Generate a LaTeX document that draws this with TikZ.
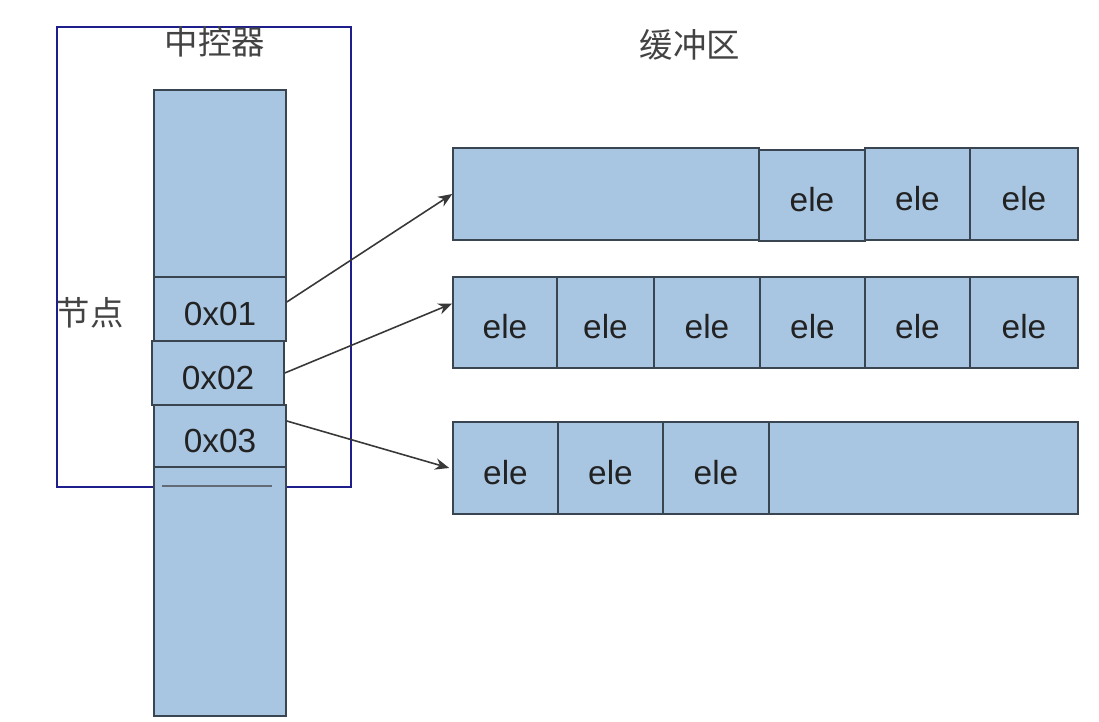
\documentclass[tikz,border=0pt]{standalone}
\usepackage{fontspec}
\setmainfont{Liberation Sans}
\newfontfamily\cjk{Noto Sans CJK SC}
\usetikzlibrary{arrows.meta}

\definecolor{cellfill}{HTML}{A8C5E2}
\definecolor{cellline}{HTML}{3A4552}
\definecolor{frame}{HTML}{1E1E8C}
\definecolor{ink}{HTML}{222222}

\begin{document}
\begin{tikzpicture}[x=0.02cm, y=-0.02cm, every node/.style={text=ink},
  cell/.style={draw=cellline, fill=cellfill, line width=0.9pt, inner sep=0pt,
    text height=18.3pt, text depth=0pt, font=\fontsize{19}{22}\selectfont},
  wh/.style 2 args={minimum width=#1*0.02cm, minimum height=#2*0.02cm},
  link/.style={draw=ink!90, line width=0.9pt, -{Stealth[length=8pt,width=6.5pt]}},
  head/.style={font=\cjk\fontsize{19}{22}\selectfont, text=ink!85}]
  \useasboundingbox (0,0) rectangle (1099,722);

  % controller frame sits behind the column
  \draw[frame, line width=0.9pt] (57,27) rectangle (351,487);
  \node[head] (ctrl) at (215,42) {中控器};
  \node[head] (buf) at (690,45) {缓冲区};
  \node[head] (nodelbl) at (90,313) {节点};

  % the column of node slots
  \node[cell, wh={132}{187}] (ctop) at (220,183.5) {};
  \node[cell, wh={132}{64}] (a1) at (220,309) {0x01};
  \node[cell, wh={132}{64}] (a2) at (218,373) {0x02};
  \node[cell, wh={132}{62}] (a3) at (220,436) {0x03};
  \node[cell, wh={132}{249}] (cbot) at (220,591.5) {};
  \draw[cellline!80, line width=0.8pt] (162,486) -- (272,486);

  % buffer rows
  \node[cell, wh={306}{92}] (r1e) at (606,194) {};
  \node[cell, wh={106}{91}] (r1a) at (812,195.5) {ele};
  \node[cell, wh={105}{92}] (r1b) at (917.5,194) {ele};
  \node[cell, wh={108}{92}] (r1c) at (1024,194) {ele};

  \node[cell, wh={104}{91}] (r2a) at (505,322.5) {ele};
  \node[cell, wh={97}{91}] (r2b) at (605.5,322.5) {ele};
  \node[cell, wh={106}{91}] (r2c) at (707,322.5) {ele};
  \node[cell, wh={105}{91}] (r2d) at (812.5,322.5) {ele};
  \node[cell, wh={105}{91}] (r2e) at (917.5,322.5) {ele};
  \node[cell, wh={108}{91}] (r2f) at (1024,322.5) {ele};

  \node[cell, wh={105}{92}] (r3a) at (505.5,468) {ele};
  \node[cell, wh={105}{92}] (r3b) at (610.5,468) {ele};
  \node[cell, wh={106}{92}] (r3c) at (716,468) {ele};
  \node[cell, wh={309}{92}] (r3e) at (923.5,468) {};

  % slot pointers
  \draw[link] ([yshift=0.14cm]a1.east) -- (r1e.west);
  \draw[link] (a2.east) -- ([yshift=0.38cm]r2a.west);
  \draw[link] ([yshift=0.3cm]a3.east) -- ([xshift=-0.06cm]r3a.west);
\end{tikzpicture}
\end{document}
